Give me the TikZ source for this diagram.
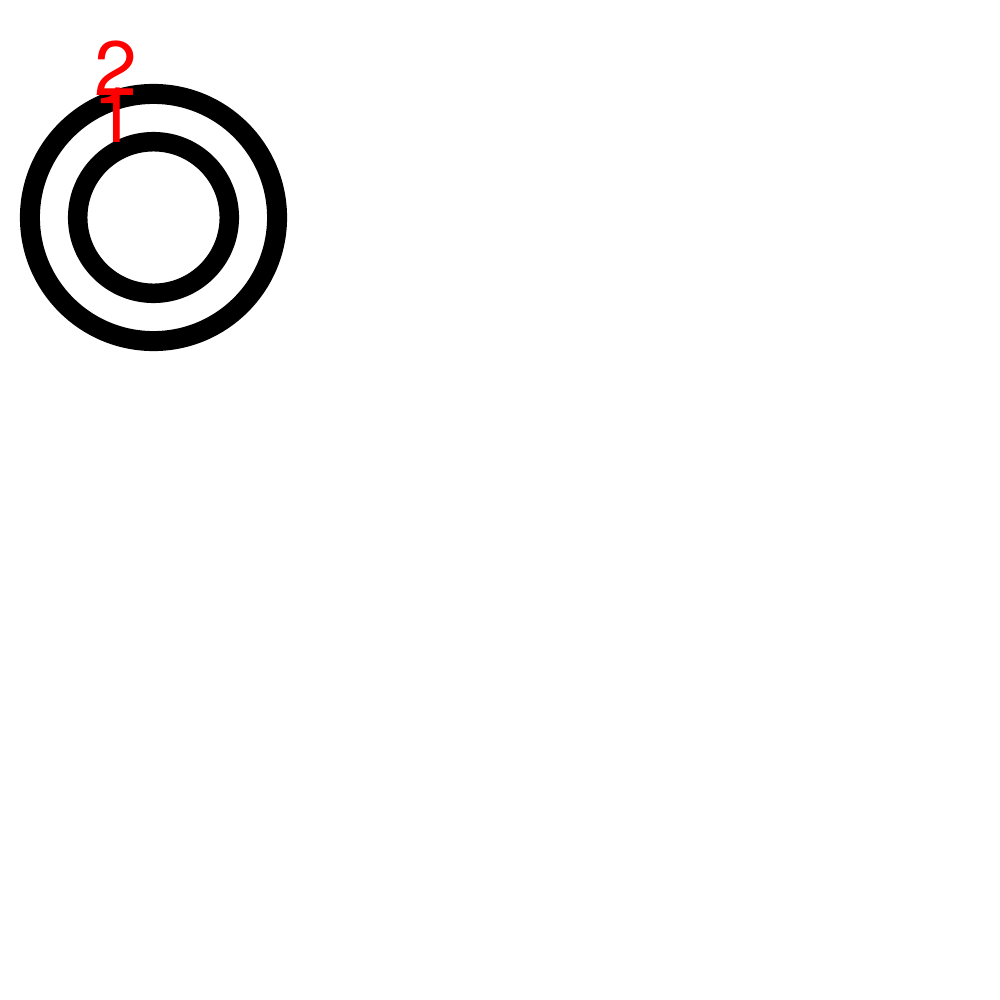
\documentclass[tikz,border=0pt]{standalone}
\usepackage{fontspec}
\setmainfont{TeX Gyre Heros}
\begin{document}
\begin{tikzpicture}[x=0.01cm,y=-0.01cm,
  ring/.style={circle,draw=black,inner sep=0pt,outer sep=0pt},
  lbl/.style={text=red,anchor=base,inner sep=0pt,font=\fontsize{21.9}{26}\selectfont}]
\useasboundingbox (0,0) rectangle (1000,1000);
\fill[white] (0,0) rectangle (1000,1000);
\node[ring,line width=5.69pt,minimum size=2.47cm] (outer) at (153.5,217.5) {};
\node[ring,line width=5.55pt,minimum size=1.515cm] (inner) at (153.5,217.5) {};
\node[lbl] (two) at (116,95) {2};
\node[lbl] (one) at (114.7,142) {1};
\end{tikzpicture}
\end{document}
